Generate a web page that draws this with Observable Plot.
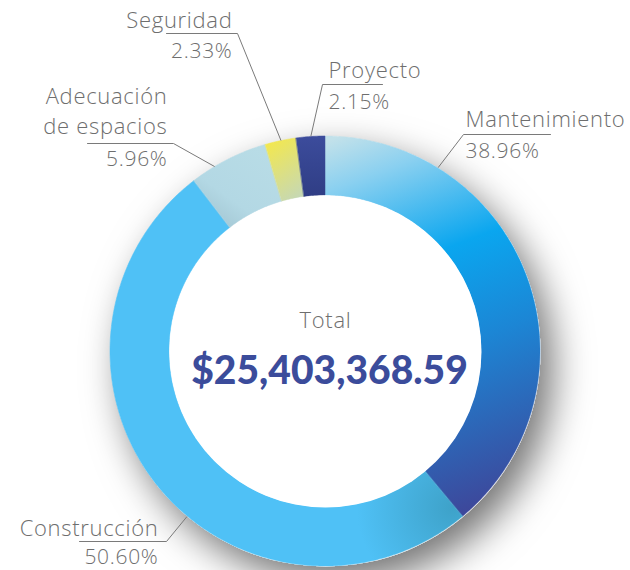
<!DOCTYPE html>
<html><head><meta charset="utf-8">
<script src="https://cdn.jsdelivr.net/npm/d3@7"></script>
<script src="https://cdn.jsdelivr.net/npm/@observablehq/plot@0.6"></script>
<style>body{margin:0;background:#fff} #chart{width:630px;height:570px}</style>
</head><body><div id="chart"></div>
<script>
// ---- data ----
const categories = ["Mantenimiento", "Construcción", "Adecuación\nde espacios", "Seguridad", "Proyecto"];
const shares = [38.96, 50.60, 5.96, 2.33, 2.15];
const totalTitle = "Total";
const totalValue = 25403368.59;

// ---- layout & style ----
const W = 630, H = 570, cx = 325, cy = 351, R = 215, R0 = 156;
const textColor = "#6e6e6e", lineColor = "#7a7a7a", navy = "#3b4c9b";
const fontFamily = "'Open Sans', Lato, sans-serif";
const labelLayout = [
  {anchorDeg: 31.5, elbow: [463, 134], end: 550, tx: 465, nameY: 126, pctY: 157, align: "start"},
  {anchorDeg: 220, elbow: [166, 541], end: 79, tx: 158, nameY: 535, pctY: 563, align: "end"},
  {anchorDeg: 329, elbow: [173, 143], end: 87, tx: 167, nameY: 133, pctY: 165, align: "end"},
  {anchorDeg: null, elbow: [237, 33], end: 166, tx: 232, nameY: 27, pctY: 57, align: "end"},
  {anchorDeg: null, elbow: [322, 84], end: 382, tx: 328, nameY: 77, pctY: 108, align: "start"}
];
const fillIds = ["gMant", "gCons", "gAdec", "gSeg", "gProy"];

// ---- geometry from data ----
const arcs = d3.pie().sort(null).value(d => d)(shares);
const slices = arcs.map((a, i) => {
  const n = Math.max(6, Math.ceil((a.endAngle - a.startAngle) / 0.01));
  const pts = d3.range(n + 1).map(k => {
    const t = a.startAngle + (a.endAngle - a.startAngle) * k / n;
    return {ox: cx + R * Math.sin(t), oy: cy - R * Math.cos(t),
            ix: cx + R0 * Math.sin(t), iy: cy - R0 * Math.cos(t)};
  });
  return {name: categories[i], pts};
});
const fmtPct = d3.format(".2f");
const leaders = arcs.map((a, i) => {
  const L = labelLayout[i];
  const ang = L.anchorDeg != null ? L.anchorDeg * Math.PI / 180 : (a.startAngle + a.endAngle) / 2;
  return [
    {x: cx + (R + 1) * Math.sin(ang), y: cy - (R + 1) * Math.cos(ang)},
    {x: L.elbow[0], y: L.elbow[1]},
    {x: L.end, y: L.elbow[1]}
  ];
});

const marks = [
  Plot.dot([{x: cx, y: cy}], {x: "x", y: "y", r: R, fill: "#ffffff", stroke: null}),
  ...slices.map((s, i) => Plot.area(s.pts, {x1: "ox", y1: "oy", x2: "ix", y2: "iy", curve: "linear",
      fill: `url(#${fillIds[i]})`, stroke: `url(#${fillIds[i]})`, strokeWidth: 0.5})),
  Plot.dot([{x: cx, y: cy}], {x: "x", y: "y", r: R0, fill: "#ffffff", stroke: null}),
  ...leaders.map(l => Plot.line(l, {x: "x", y: "y", stroke: lineColor, strokeWidth: 1, curve: "linear"})),
  ...labelLayout.map((L, i) => Plot.text([categories[i]], {x: () => L.tx, y: () => L.nameY, text: d => d,
      textAnchor: L.align, lineAnchor: "bottom", lineHeight: 1.32, fontSize: 22, fontWeight: 300,
      fontFamily, fill: textColor})),
  ...labelLayout.map((L, i) => Plot.text([shares[i]], {x: () => L.tx, y: () => L.pctY, text: d => fmtPct(d) + "%",
      textAnchor: L.align, lineAnchor: "bottom", fontSize: 21, fontWeight: 300, fontFamily, fill: textColor})),
  Plot.text([totalTitle], {x: () => cx, y: () => 327, text: d => d, lineAnchor: "bottom",
      fontSize: 22, fontWeight: 300, fontFamily, fill: textColor}),
  Plot.text([totalValue], {x: () => cx + 4, y: () => 383, text: d => d3.format("$,.2f")(d), lineAnchor: "bottom",
      fontSize: 39, fontWeight: 900, fontFamily: "Lato, 'Open Sans', sans-serif", fill: navy})
];

const svg = Plot.plot({
  width: W, height: H, margin: 0,
  x: {domain: [0, W], range: [0, W], axis: null},
  y: {domain: [0, H], range: [0, H], axis: null},
  style: {background: "#ffffff", overflow: "visible"},
  marks
});

const defs = `
<defs>
  <filter id="dshadow" x="-40%" y="-40%" width="180%" height="180%">
    <feDropShadow dx="12" dy="16" stdDeviation="19" flood-color="#000" flood-opacity="0.55"/>
  </filter>
  <linearGradient id="gMant" gradientUnits="userSpaceOnUse" x1="330" y1="140" x2="470" y2="510">
    <stop offset="0" stop-color="#c2e1ea"/>
    <stop offset="0.12" stop-color="#8ad0f0"/>
    <stop offset="0.36" stop-color="#0aa6ef"/>
    <stop offset="0.6" stop-color="#1c86d5"/>
    <stop offset="1" stop-color="#3d489b"/>
  </linearGradient>
  <radialGradient id="gCons" gradientUnits="userSpaceOnUse" cx="452" cy="508" r="95">
    <stop offset="0" stop-color="#3ea2c9"/>
    <stop offset="1" stop-color="#4fc1f6"/>
  </radialGradient>
  <linearGradient id="gAdec" gradientUnits="userSpaceOnUse" x1="262" y1="150" x2="205" y2="228">
    <stop offset="0" stop-color="#b8dce6"/>
    <stop offset="0.6" stop-color="#b3d8e4"/>
    <stop offset="1" stop-color="#9fc2cf"/>
  </linearGradient>
  <linearGradient id="gSeg" gradientUnits="userSpaceOnUse" x1="262" y1="145" x2="298" y2="198">
    <stop offset="0" stop-color="#f4e84c"/>
    <stop offset="1" stop-color="#c6d8b4"/>
  </linearGradient>
  <linearGradient id="gProy" gradientUnits="userSpaceOnUse" x1="310" y1="136" x2="310" y2="198">
    <stop offset="0" stop-color="#3c4c9c"/>
    <stop offset="1" stop-color="#2f3d84"/>
  </linearGradient>
</defs>`;
svg.insertAdjacentHTML("afterbegin", defs);
svg.querySelectorAll("circle").forEach(c => {
  if (Math.abs(+c.getAttribute("r") - R) < 0.5) c.setAttribute("filter", "url(#dshadow)");
});
svg.querySelectorAll('g[font-weight="300"]').forEach(g => g.setAttribute("letter-spacing", "0.7"));
document.getElementById("chart").appendChild(svg);
</script>
</body></html>
